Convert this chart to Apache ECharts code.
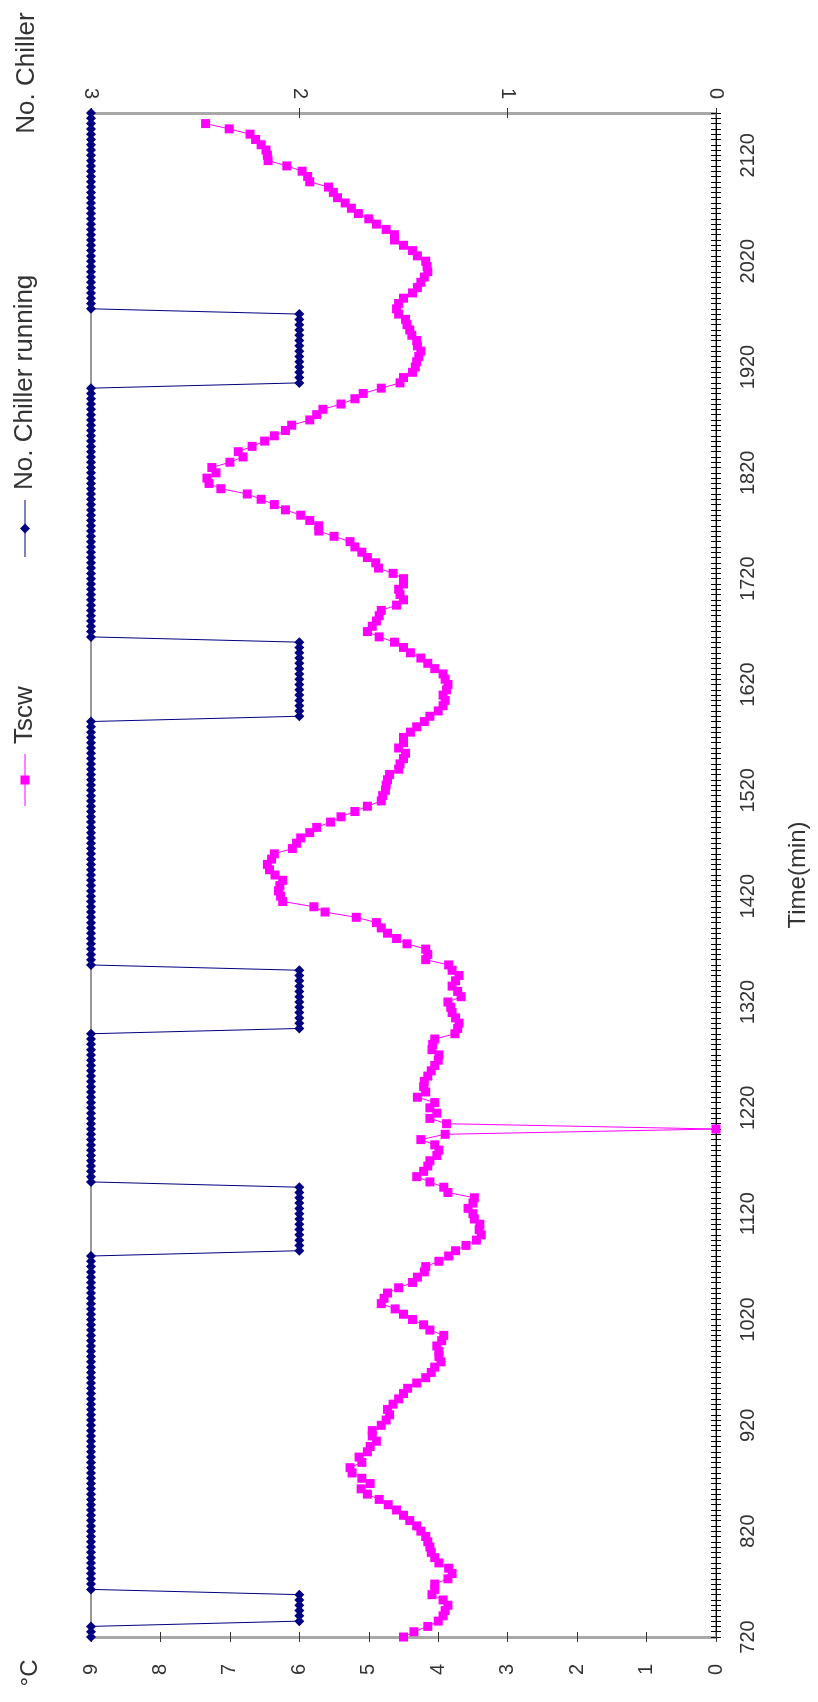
<!DOCTYPE html>
<html>
<head>
<meta charset="utf-8">
<script src="https://cdn.jsdelivr.net/npm/echarts@6/dist/echarts.min.js"></script>
<style>
html,body{margin:0;padding:0;background:#fff;}
#chart{width:818px;height:1702px;}
</style>
</head>
<body>
<div id="chart"></div>
<script>
// ---- data (time in minutes, every 5 min from 720 to 2160) ----
const timeStart = 720, timeEnd = 2160, timeStep = 5;
const timeCategories = [];
for (let t = timeStart; t <= timeEnd; t += timeStep) timeCategories.push(String(t));

const tempTicks = [0,1,2,3,4,5,6,7,8,9];
const chillerTicks = [0,1,2,3];

// Tscw (°C), rows of 20 values = 100 minutes each
const tscw = [
  4.5,4.35,4.15,4.0,3.93,3.9,3.86,3.93,4.09,4.05,4.05,3.86,3.8,3.85,3.99,4.05,4.1,4.12,4.15,4.18,       // 720
  4.25,4.31,4.41,4.5,4.6,4.72,4.85,5.02,5.11,4.98,5.1,5.24,5.27,5.1,5.14,5.02,4.98,4.89,4.95,4.95,      // 820
  4.82,4.75,4.7,4.73,4.65,4.57,4.5,4.44,4.31,4.18,4.1,4.05,3.96,3.99,3.99,4.02,3.95,3.92,4.12,4.21,     // 920
  4.37,4.5,4.62,4.82,4.78,4.73,4.57,4.37,4.3,4.2,4.18,3.99,3.85,3.75,3.6,3.45,3.38,3.41,3.4,3.48,       // 1020
  3.5,3.57,3.5,3.48,3.86,3.92,4.12,4.31,4.21,4.15,4.12,4.02,3.99,4.05,4.25,3.9,0,3.88,4.12,4.02,        // 1120
  4.12,4.05,4.3,4.18,4.21,4.2,4.15,4.1,4.05,4.0,3.99,4.09,4.08,4.05,3.76,3.72,3.7,3.75,3.8,3.82,        // 1220
  3.86,3.67,3.72,3.8,3.75,3.7,3.8,3.85,4.18,4.15,4.18,4.45,4.6,4.73,4.82,4.89,5.18,5.63,5.79,6.24,      // 1320
  6.27,6.3,6.28,6.24,6.35,6.43,6.46,6.4,6.36,6.1,6.04,5.98,5.85,5.75,5.55,5.4,5.2,5.02,4.82,4.8,        // 1420
  4.76,4.75,4.73,4.7,4.57,4.55,4.5,4.47,4.57,4.5,4.5,4.4,4.31,4.2,4.12,4.0,3.93,3.9,3.93,3.88,          // 1520
  3.86,3.9,3.93,4.05,4.15,4.25,4.4,4.5,4.63,4.85,5.02,4.95,4.89,4.85,4.82,4.6,4.5,4.55,4.57,4.5,        // 1620
  4.5,4.65,4.86,4.9,5.02,5.1,5.2,5.27,5.5,5.72,5.72,5.85,5.98,6.2,6.36,6.55,6.75,7.13,7.3,7.33,         // 1720
  7.2,7.26,7.0,6.81,6.88,6.68,6.5,6.36,6.2,6.11,5.85,5.75,5.66,5.4,5.2,5.08,4.82,4.55,4.5,4.37,         // 1820
  4.33,4.31,4.28,4.25,4.3,4.31,4.38,4.41,4.45,4.47,4.57,4.6,4.57,4.5,4.37,4.3,4.25,4.2,4.15,4.16,       // 1920
  4.18,4.3,4.37,4.5,4.63,4.63,4.75,4.89,5.0,5.15,5.25,5.34,5.45,5.51,5.58,5.85,5.88,5.96,6.18,6.45,     // 2020
  6.46,6.48,6.55,6.63,6.71,7.01,7.35,null,null                                                          // 2120
];

// Number of chillers running
const chillers = [
  3,3,3,2,2,2,2,2,2,3,3,3,3,3,3,3,3,3,3,3,   // 720
  3,3,3,3,3,3,3,3,3,3,3,3,3,3,3,3,3,3,3,3,   // 820
  3,3,3,3,3,3,3,3,3,3,3,3,3,3,3,3,3,3,3,3,   // 920
  3,3,3,3,3,3,3,3,3,3,3,3,3,2,2,2,2,2,2,2,   // 1020
  2,2,2,2,2,2,3,3,3,3,3,3,3,3,3,3,3,3,3,3,   // 1120
  3,3,3,3,3,3,3,3,3,3,3,3,3,3,3,2,2,2,2,2,   // 1220
  2,2,2,2,2,2,2,3,3,3,3,3,3,3,3,3,3,3,3,3,   // 1320
  3,3,3,3,3,3,3,3,3,3,3,3,3,3,3,3,3,3,3,3,   // 1420
  3,3,3,3,3,3,3,3,3,3,3,3,3,3,2,2,2,2,2,2,   // 1520
  2,2,2,2,2,2,2,2,2,3,3,3,3,3,3,3,3,3,3,3,   // 1620
  3,3,3,3,3,3,3,3,3,3,3,3,3,3,3,3,3,3,3,3,   // 1720
  3,3,3,3,3,3,3,3,3,3,3,3,3,3,3,3,3,2,2,2,   // 1820
  2,2,2,2,2,2,2,2,2,2,2,3,3,3,3,3,3,3,3,3,   // 1920
  3,3,3,3,3,3,3,3,3,3,3,3,3,3,3,3,3,3,3,3,   // 2020
  3,3,3,3,3,3,3,3,3                          // 2120
];

const seriesNames = ['Tscw', 'No. Chiller running'];
const axisTitles = { temp: '°C', chiller: 'No. Chiller', time: 'Time(min)' };

// ---- styles ----
const FONT = '"Liberation Sans", Arial, sans-serif';
const TXT = '#333';
const MAGENTA = '#ff00ff';
const NAVY = '#000080';
const GRAYAXIS = '#a8a8a8';

function valueAxis(pos, max, withLabels, inside) {
  return {
    type: 'value', position: pos, inverse: true, min: 0, max: max, interval: 1,
    axisLine: { show: withLabels, onZero: false, lineStyle: { color: GRAYAXIS, width: 3 } },
    axisTick: { show: true, inside: inside, length: 5, lineStyle: { color: '#333', width: 1 } },
    axisLabel: withLabels ? {
      show: true, rotate: 90, fontSize: 20, fontFamily: FONT, color: TXT,
      margin: pos === 'bottom' ? 27 : 14
    } : { show: false },
    splitLine: { show: false }
  };
}

function timeAxis(withLabels, inside) {
  return {
    type: 'category', position: 'right', data: timeCategories, boundaryGap: false,
    axisLine: { show: withLabels, onZero: false, lineStyle: { color: '#000', width: 1 } },
    axisTick: { show: true, inside: inside, interval: 0, length: 5, lineStyle: { color: '#000', width: 1 } },
    axisLabel: withLabels ? {
      show: true, interval: 19, rotate: 90, fontSize: 20, fontFamily: FONT, color: TXT, margin: 22
    } : { show: false },
    splitLine: { show: false },
    name: withLabels ? axisTitles.time : '',
    nameLocation: 'middle', nameRotate: 90, nameGap: 70,
    nameTextStyle: { fontSize: 24, fontFamily: FONT, color: TXT }
  };
}

const chart = echarts.init(document.getElementById('chart'));
chart.setOption({
  animation: false,
  backgroundColor: '#fff',
  grid: { left: 91, right: 101, top: 113, bottom: 65, show: true, borderColor: '#333', borderWidth: 1 },
  xAxis: [
    valueAxis('bottom', 9, true, false),
    valueAxis('top', 3, true, false),
    valueAxis('bottom', 9, false, true),
    valueAxis('top', 3, false, true)
  ],
  yAxis: [
    timeAxis(true, false),
    timeAxis(false, true)
  ],
  series: [
    {
      name: seriesNames[1], type: 'line', xAxisIndex: 1, yAxisIndex: 0,
      data: chillers, symbol: 'diamond', symbolSize: 10, showAllSymbol: true,
      itemStyle: { color: NAVY }, lineStyle: { color: NAVY, width: 1 }, z: 3
    },
    {
      name: seriesNames[0], type: 'line', xAxisIndex: 0, yAxisIndex: 0,
      data: tscw, symbol: 'rect', symbolSize: 9, showAllSymbol: true, connectNulls: false,
      itemStyle: { color: MAGENTA }, lineStyle: { color: MAGENTA, width: 1 }, z: 4
    }
  ],
  graphic: [
    { type: 'text', x: 30, y: 1673, rotation: Math.PI / 2,
      style: { text: axisTitles.temp, fontSize: 24, fontFamily: FONT, fill: TXT,
               align: 'center', verticalAlign: 'middle', textAlign: 'center', textVerticalAlign: 'middle' } },
    { type: 'text', x: 27, y: 73, rotation: Math.PI / 2,
      style: { text: axisTitles.chiller, fontSize: 26, fontFamily: FONT, fill: TXT,
               align: 'center', verticalAlign: 'middle', textAlign: 'center', textVerticalAlign: 'middle' } },
    { type: 'group', x: 25, y: 806, rotation: Math.PI / 2, children: [
      { type: 'line', shape: { x1: 0, y1: 0, x2: 52, y2: 0 }, style: { stroke: MAGENTA, lineWidth: 1 } },
      { type: 'rect', shape: { x: 21.5, y: -4.5, width: 9, height: 9 }, style: { fill: MAGENTA } },
      { type: 'text', x: 62, y: 0, style: { text: seriesNames[0], fontSize: 26, fontFamily: FONT, fill: TXT,
        align: 'left', verticalAlign: 'middle', textAlign: 'left', textVerticalAlign: 'middle' } }
    ]},
    { type: 'group', x: 25, y: 557, rotation: Math.PI / 2, children: [
      { type: 'line', shape: { x1: 0, y1: 0, x2: 57, y2: 0 }, style: { stroke: NAVY, lineWidth: 1 } },
      { type: 'polygon', shape: { points: [[28.5,-5],[33.5,0],[28.5,5],[23.5,0]] }, style: { fill: NAVY } },
      { type: 'text', x: 67, y: 0, style: { text: seriesNames[1], fontSize: 26, fontFamily: FONT, fill: TXT,
        align: 'left', verticalAlign: 'middle', textAlign: 'left', textVerticalAlign: 'middle' } }
    ]}
  ]
});
</script>
</body>
</html>
